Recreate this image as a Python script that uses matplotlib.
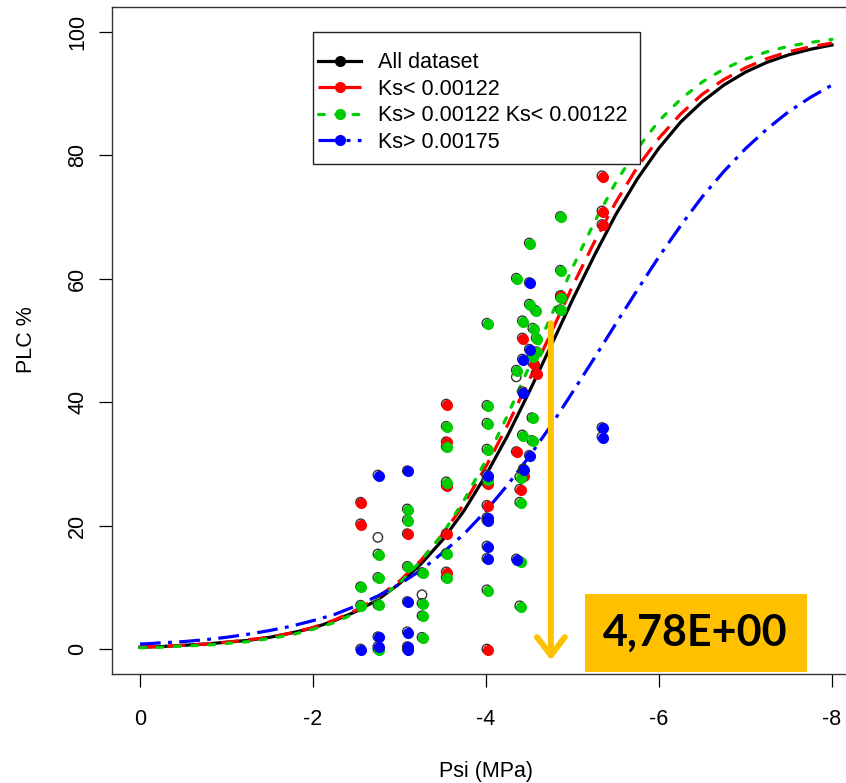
import matplotlib
matplotlib.use("Agg")
import matplotlib.pyplot as plt
from matplotlib.lines import Line2D
from matplotlib.patches import Rectangle
from matplotlib.transforms import offset_copy

plt.rcParams['font.family'] = ['Liberation Sans', 'DejaVu Sans']
plt.rcParams['axes.unicode_minus'] = False

# ---------------- data ----------------
psi_grid = [0, -0.25, -0.5, -0.75, -1, -1.25, -1.5, -1.75, -2, -2.25, -2.5, -2.75, -3, -3.25, -3.5, -3.75,
            -4, -4.25, -4.5, -4.75, -5, -5.25, -5.5, -5.75, -6, -6.25, -6.5, -6.75, -7, -7.25, -7.5, -7.75, -8]
plc_all = [0.3, 0.4, 0.6, 0.8, 1.1, 1.4, 1.9, 2.6, 3.4, 4.6, 6.1, 8.0, 10.6, 13.8, 17.7, 22.5,
           28.2, 34.6, 41.7, 49.1, 56.6, 63.7, 70.4, 76.2, 81.2, 85.4, 88.7, 91.4, 93.5, 95.1, 96.3, 97.2, 97.9]
plc_low = [0.3, 0.4, 0.6, 0.8, 1.1, 1.5, 1.9, 2.6, 3.5, 4.7, 6.3, 8.4, 11.0, 14.4, 18.6, 23.6,
           29.6, 36.3, 43.6, 51.2, 58.8, 65.9, 72.4, 78.1, 82.8, 86.7, 89.9, 92.3, 94.2, 95.7, 96.8, 97.6, 98.2]
plc_mid = [0.2, 0.3, 0.5, 0.6, 0.9, 1.2, 1.7, 2.3, 3.2, 4.3, 5.9, 8.0, 10.7, 14.3, 18.7, 24.2,
           30.6, 37.9, 45.8, 53.9, 61.8, 69.1, 75.6, 81.1, 85.6, 89.1, 91.9, 94.0, 95.6, 96.8, 97.7, 98.3, 98.8]
plc_high = [0.8, 1.0, 1.2, 1.5, 1.9, 2.4, 3.0, 3.7, 4.6, 5.6, 7.0, 8.6, 10.5, 12.8, 15.6, 18.7,
            22.4, 26.6, 31.2, 36.2, 41.6, 47.1, 52.7, 58.2, 63.6, 68.6, 73.3, 77.4, 81.1, 84.3, 87.1, 89.4, 91.4]

red_psi = [-2.55, -2.55, -3.09, -3.54, -3.54, -3.54, -3.54, -3.54, -4.01, -4.01, -4.01,
           -4.35, -4.39, -4.43, -4.42, -4.54, -4.58, -4.86, -5.34, -5.34, -5.34]
red_plc = [23.8, 20.3, 18.7, 39.7, 33.6, 26.5, 18.7, 12.5, 26.9, 23.3, 0.0,
           32.0, 25.9, 28.2, 50.4, 46.4, 44.7, 57.3, 76.7, 71.0, 68.8]

green_psi = [-2.55, -2.55, -2.75, -2.75, -2.75, -2.75, -3.09, -3.09, -3.09, -3.26, -3.26, -3.26, -3.26,
             -3.54, -3.54, -3.54, -3.54, -3.54, -4.01, -4.01, -4.01, -4.01, -4.01, -4.01,
             -4.35, -4.35, -4.39, -4.39, -4.39, -4.39, -4.42, -4.42, -4.50, -4.50, -4.53, -4.53, -4.53,
             -4.54, -4.57, -4.58, -4.58, -4.86, -4.86, -4.86, -4.86]
green_plc = [10.1, 7.1, 15.4, 11.6, 7.2, 0.0, 22.7, 20.9, 13.4, 12.4, 7.4, 5.4, 1.9,
             36.1, 32.8, 27.1, 15.5, 11.6, 52.8, 39.5, 36.6, 32.4, 27.5, 9.6,
             60.1, 45.2, 27.9, 23.8, 14.2, 7.0, 53.2, 34.7, 65.8, 55.9, 47.4, 37.5, 33.8,
             52.0, 54.9, 50.4, 48.2, 70.1, 61.4, 57.0, 55.0]

blue_psi = [-2.55, -2.75, -2.75, -2.75, -3.09, -3.09, -3.09, -3.09, -3.09, -4.01, -4.01, -4.01, -4.01, -4.01,
            -4.35, -4.43, -4.42, -4.42, -4.50, -4.50, -4.50, -5.34, -5.34]
blue_plc = [0.0, 28.2, 2.0, 0.4, 28.9, 7.7, 2.8, 0.4, 0.0, 28.2, 21.3, 20.9, 16.7, 14.7,
            14.6, 29.2, 47.0, 41.7, 31.4, 59.4, 48.6, 35.9, 34.4]

open_psi = [-2.75, -3.26, -4.35]
open_plc = [18.1, 8.8, 44.1]

legend_labels = ["All dataset", "Ks< 0.00122", "Ks> 0.00122 Ks< 0.00122", "Ks> 0.00175"]
x_ticks = [0, -2, -4, -6, -8]
y_ticks = [0, 20, 40, 60, 80, 100]
p50_value = -4.75
p50_label = "4,78E+00"

# ---------------- figure ----------------
W, H = 846, 783
fig = plt.figure(figsize=(W / 100, H / 100), dpi=100)
ax = fig.add_axes([112.3 / W, 1 - 673.7 / H, 747.4 / W, 666.4 / H])
ax.set_xlim(0.32, -8.32)
ax.set_ylim(-4, 104)

RED, GREEN, BLUE, YEL = '#FF0000', '#00CD00', '#0000FF', '#FFC000'
LW = 2.3
DASH_RED = (5.5, 3.0)
DASH_GREEN = (1.8, 3.6)
DASH_BLUE = (6.5, 2.3, 1.2, 2.3)

# curves
ax.plot(psi_grid, plc_all, color='black', lw=LW, zorder=3)
ax.plot(psi_grid, plc_low, color=RED, lw=LW, dashes=DASH_RED, zorder=3)
ax.plot(psi_grid, plc_mid, color=GREEN, lw=LW, dashes=DASH_GREEN, dash_capstyle='round', zorder=3)
ax.plot(psi_grid, plc_high, color=BLUE, lw=LW, dashes=DASH_BLUE, zorder=3)

# points: black open circles underneath, coloured dots slightly shifted
all_psi = red_psi + green_psi + blue_psi + open_psi
all_plc = red_plc + green_plc + blue_plc + open_plc
ax.scatter(all_psi, all_plc, s=46, facecolors='none', edgecolors='#333333', linewidths=1.0, zorder=4)
shift = offset_copy(ax.transData, fig=fig, x=0.8, y=-0.8, units='dots')
ax.scatter(red_psi, red_plc, s=64, color=RED, linewidths=0, transform=shift, zorder=5)
ax.scatter(green_psi, green_plc, s=64, color=GREEN, linewidths=0, transform=shift, zorder=5)
ax.scatter(blue_psi, blue_plc, s=64, color=BLUE, linewidths=0, transform=shift, zorder=5)

# axes styling (R base look)
for s in ['top', 'right', 'left', 'bottom']:
    ax.spines[s].set_linewidth(1.0)
    ax.spines[s].set_color('#333333')
ax.set_xticks(x_ticks)
ax.set_xticklabels([str(v) for v in x_ticks])
ax.set_yticks(y_ticks)
ax.set_yticklabels([str(v) for v in y_ticks], rotation=90, va='center')
ax.tick_params(axis='both', direction='out', length=9.4, width=0.9, labelsize=15.5, color='black')
ax.tick_params(axis='x', pad=16)
ax.tick_params(axis='y', pad=8)

ax.set_xlabel("Psi (MPa)", fontsize=15.5)
ax.xaxis.label.set_va('center')
ax.xaxis.set_label_coords(0.5, (673.7 - 772) / 666.4)
ax.set_ylabel("PLC %", fontsize=15.5)
ax.yaxis.label.set_va('center')
ax.yaxis.set_label_coords((27 - 112.3) / 747.4, (673.7 - 340) / 666.4)

# legend (frame drawn separately to mimic R's padding)
handles = [
    Line2D([], [], color='black', lw=LW, marker='o', markersize=7),
    Line2D([], [], color=RED, lw=LW, dashes=DASH_RED, marker='o', markersize=7),
    Line2D([], [], color=GREEN, lw=LW, dashes=DASH_GREEN, dash_capstyle='round', marker='o', markersize=7),
    Line2D([], [], color=BLUE, lw=LW, dashes=DASH_BLUE, marker='o', markersize=7),
]
leg_frame = Rectangle((312.7 / W, 1 - 164 / H), 327.3 / W, 132.3 / H,
                      transform=fig.transFigure, facecolor='white', edgecolor='#222222',
                      linewidth=1.0, zorder=6, clip_on=False)
ax.add_patch(leg_frame)
leg = ax.legend(handles, legend_labels, loc='upper left',
                bbox_to_anchor=(318 / W, 1 - 52.5 / H), bbox_transform=fig.transFigure,
                fontsize=15.5, frameon=False, borderpad=0, labelspacing=0.25,
                handlelength=2.0, handletextpad=0.8, borderaxespad=0)
leg.set_zorder(10)

# yellow P50 arrow
ax.annotate("", xy=(p50_value, -1.8), xytext=(p50_value, 52.8),
            arrowprops=dict(arrowstyle="->, head_length=13, head_width=10", mutation_scale=1,
                            color=YEL, lw=4.3, shrinkA=0, shrinkB=0),
            zorder=8)

# yellow value box
fig.patches.append(Rectangle((585 / W, 1 - 671.7 / H), 221.7 / W, 77.7 / H,
                             transform=fig.transFigure, facecolor=YEL, edgecolor='none', zorder=9))
fig.text(695 / W, 1 - 633 / H, p50_label, fontsize=31, fontweight='bold', family=['Lato', 'DejaVu Sans'],
         ha='center', va='center', color='black', zorder=11)

fig.savefig("out.png", dpi=100)
